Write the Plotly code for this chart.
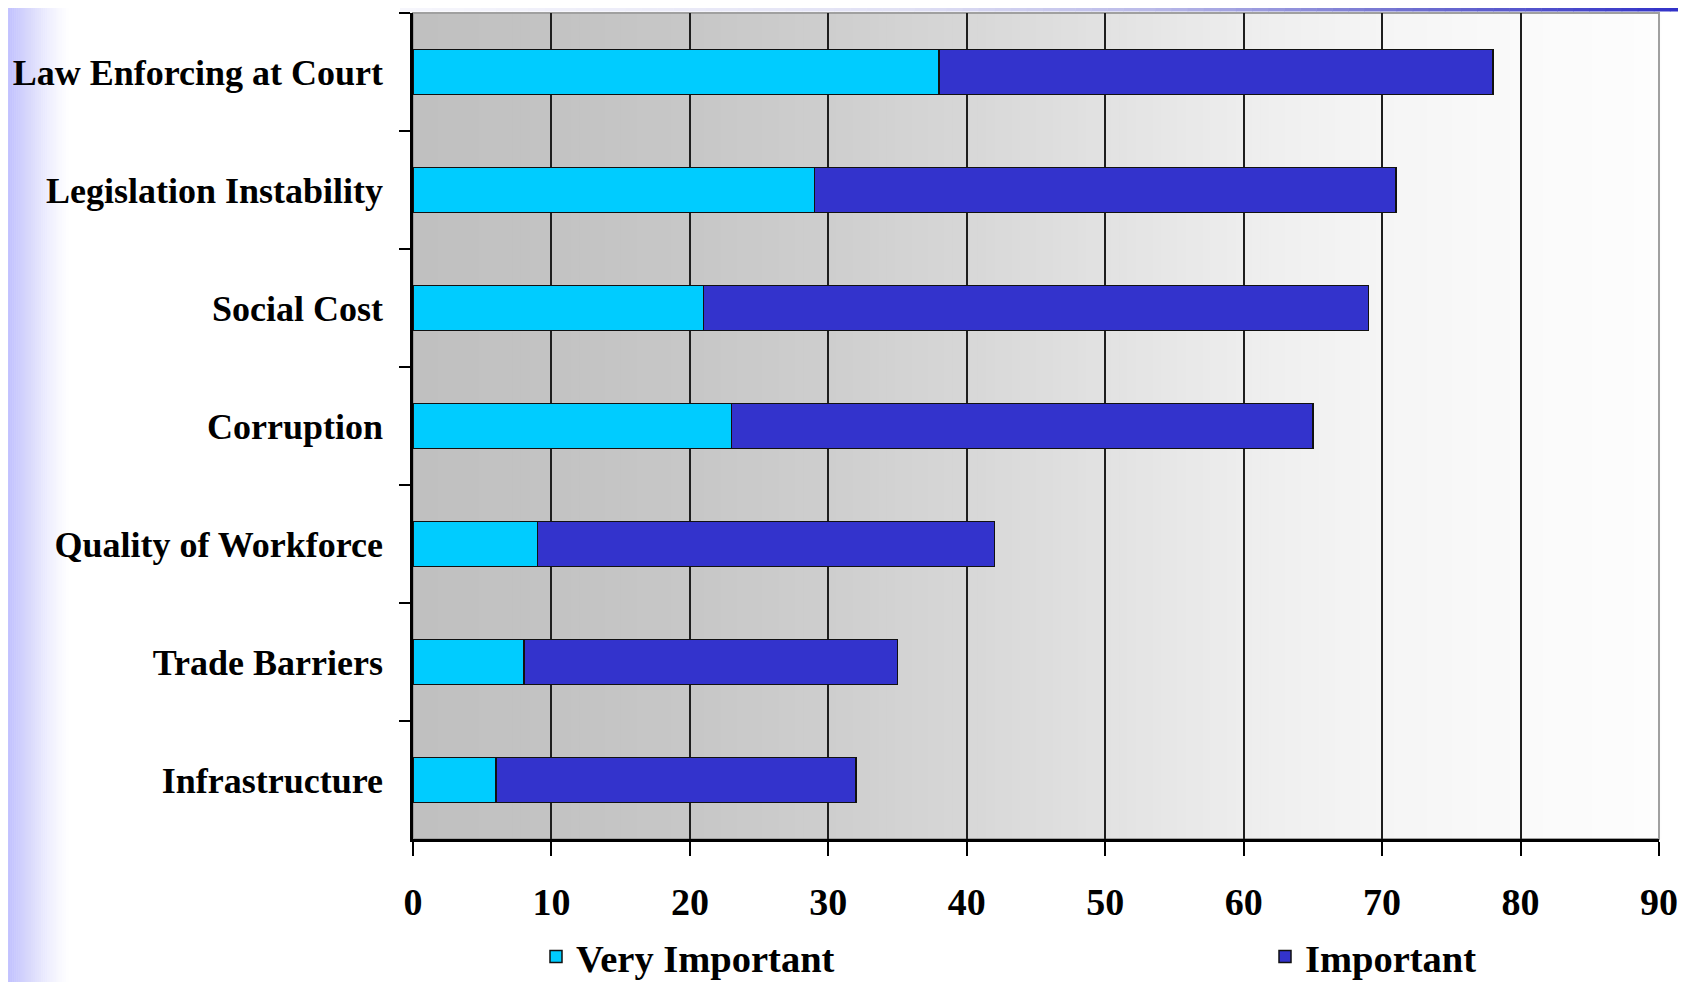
import plotly.graph_objects as go

categories = ["Law Enforcing at Court", "Legislation Instability", "Social Cost",
              "Corruption", "Quality of Workforce", "Trade Barriers", "Infrastructure"]
very_important = [38, 29, 21, 23, 9, 8, 6]
important = [40, 42, 48, 42, 33, 27, 26]
x_ticks = [0, 10, 20, 30, 40, 50, 60, 70, 80, 90]

# figure coordinates (the page body adds an 8px offset)
W, H = 1678, 1000
L, R, T, B = 405, 27, 5, 169
PW = W - L - R
PH = H - T - B

FONT = "Liberation Serif, Times New Roman, serif"


def px2x(p):
    return (p - L) / PW


def px2y(p):
    return (H - B - p) / PH


def lerp_stops(stops, t):
    for (t0, c0), (t1, c1) in zip(stops, stops[1:]):
        if t0 <= t <= t1:
            f = (t - t0) / (t1 - t0) if t1 > t0 else 0
            return tuple(int(round(a + (b - a) * f)) for a, b in zip(c0, c1))
    return stops[-1][1]


shapes = []

# plot-area horizontal gradient (gray -> white)
gray_stops = [(0.0, (192,) * 3), (1 / 9, (195,) * 3), (2 / 9, (199,) * 3), (3 / 9, (206,) * 3),
              (4 / 9, (215,) * 3), (5 / 9, (226,) * 3), (6 / 9, (237,) * 3), (7 / 9, (245,) * 3),
              (8 / 9, (250,) * 3), (1.0, (253,) * 3)]
N = 150
for i in range(N):
    c = lerp_stops(gray_stops, (i + 0.5) / N)
    shapes.append(dict(type="rect", xref="paper", yref="paper", x0=i / N, x1=(i + 1) / N + 0.002,
                       y0=0, y1=1, line=dict(width=0), fillcolor="rgb(%d,%d,%d)" % c, layer="below"))

# slide decoration: left lavender strip
lav_stops = [(0.0, (190, 190, 255)), (0.35, (215, 215, 252)), (0.7, (240, 240, 254)), (1.0, (255, 255, 255))]
NS = 30
for i in range(NS):
    t = (i + 0.5) / NS
    c = lerp_stops(lav_stops, t)
    x0 = -2 + i * 62 / NS
    x1 = -2 + (i + 1) * 62 / NS + 0.5
    shapes.append(dict(type="rect", xref="paper", yref="paper", x0=px2x(x0), x1=px2x(x1),
                       y0=px2y(H), y1=px2y(-10), line=dict(width=0),
                       fillcolor="rgb(%d,%d,%d)" % c, layer="below"))

# slide decoration: top blue line
top_stops = [(0.0, (246, 246, 252)), (0.395, (224, 224, 244)), (0.589, (184, 184, 232)),
             (0.784, (112, 112, 208)), (1.0, (48, 48, 200))]
NT = 80
x_start = 392
for i in range(NT):
    t = (i + 0.5) / NT
    c = lerp_stops(top_stops, t)
    x0 = x_start + i * (W - x_start) / NT
    x1 = x_start + (i + 1) * (W - x_start) / NT + 0.5
    shapes.append(dict(type="rect", xref="paper", yref="paper", x0=px2x(x0), x1=px2x(x1),
                       y0=px2y(3.5), y1=px2y(0), line=dict(width=0),
                       fillcolor="rgb(%d,%d,%d)" % c, layer="below"))

# gray top/right plot border
shapes.append(dict(type="rect", xref="paper", yref="paper", x0=0, x1=1, y0=0, y1=1,
                   line=dict(color="#a0a0a0", width=2), fillcolor="rgba(0,0,0,0)", layer="below"))

fig = go.Figure()
fig.add_trace(go.Bar(
    y=categories, x=very_important, name="Very Important", orientation="h",
    marker=dict(color="#00CCFF", line=dict(color="#111111", width=1.5)),
    width=0.38, legend="legend",
))
fig.add_trace(go.Bar(
    y=categories, x=important, name="Important", orientation="h",
    marker=dict(color="#3333CC", line=dict(color="#111111", width=1.5)),
    width=0.38, legend="legend2",
))

legend_font = dict(family=FONT, size=38.5, color="black", weight="bold")
fig.update_layout(
    width=W, height=H,
    margin=dict(l=L, r=R, t=T, b=B),
    barmode="stack",
    paper_bgcolor="white",
    plot_bgcolor="rgba(0,0,0,0)",
    shapes=shapes,
    showlegend=True,
    legend=dict(orientation="h", x=px2x(528), xanchor="left", y=px2y(949), yanchor="middle",
                font=legend_font, bgcolor="rgba(0,0,0,0)", itemclick=False),
    legend2=dict(orientation="h", x=px2x(1257), xanchor="left", y=px2y(949), yanchor="middle",
                 font=legend_font, bgcolor="rgba(0,0,0,0)", itemclick=False),
    xaxis=dict(
        range=[0, 90], tickvals=x_ticks, ticktext=[str(v) for v in x_ticks],
        showgrid=True, gridcolor="#1e1e1e", gridwidth=1.8,
        showline=True, linecolor="black", linewidth=2.5,
        ticks="outside", ticklen=14, tickwidth=1.8, tickcolor="black",
        ticklabelstandoff=14,
        tickfont=dict(family=FONT, size=38, color="black", weight="bold"),
        zeroline=False, fixedrange=True,
    ),
    yaxis=dict(
        type="category", categoryorder="array", categoryarray=categories,
        autorange="reversed",
        showgrid=False, showline=True, linecolor="black", linewidth=2.5,
        ticks="outside", ticklen=11, tickwidth=1.5, tickcolor="black",
        tickson="boundaries", ticklabelstandoff=20,
        tickfont=dict(family=FONT, size=36, color="black", weight="bold"),
        zeroline=False, fixedrange=True,
    ),
)

fig.write_html("out.html")
